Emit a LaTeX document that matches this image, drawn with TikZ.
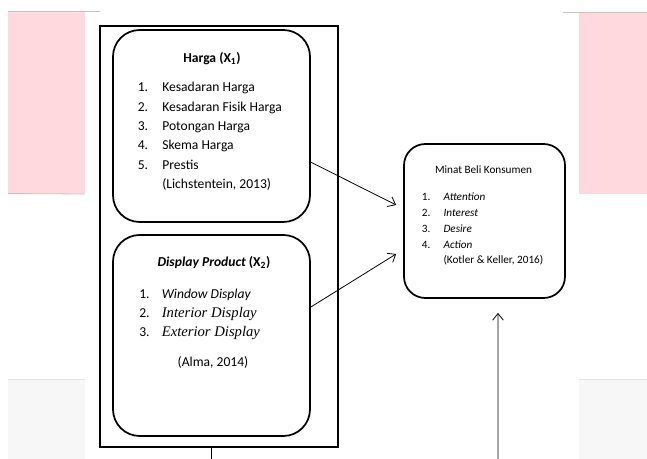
\documentclass[tikz,border=0pt]{standalone}
\usepackage{fontspec}
\setmainfont{Carlito}
\newfontfamily\timesfont{Liberation Serif}
\usepackage{tikz}
\definecolor{softpink}{RGB}{255, 217, 221}
\definecolor{softgray}{RGB}{247, 247, 247}
\definecolor{edgegray}{RGB}{200, 196, 196}
\definecolor{lightedge}{RGB}{228, 228, 228}
\usetikzlibrary{arrows.meta, positioning, calc}

\begin{document}
\begin{tikzpicture}[
    x=0.75pt, y=-0.75pt,
    >={Straight Barb[length=5pt, width=8pt]},
    varbox/.style={draw, line width=1.3pt, rounded corners=#1, inner sep=0pt},
    listtext/.style={inner sep=0pt, anchor=base west, align=left},
    headtext/.style={inner sep=0pt, anchor=base}
]
    \useasboundingbox (0,0) rectangle (647,459);

    \fill[softpink] (8,11) rectangle (85,194);
    \fill[softpink] (579,12) rectangle (647,194);
    \fill[softgray] (8,379) rectangle (85,459);
    \fill[softgray] (579,379) rectangle (647,459);
    \draw[edgegray, line width=0.7pt] (8,11) -- (100,11);
    \draw[edgegray, line width=0.7pt] (563,12) -- (647,12);
    \draw[edgegray, line width=0.6pt] (8,193.5) -- (85,194);
    \draw[lightedge, line width=0.6pt] (8,379) -- (85,379);
    \draw[lightedge, line width=0.6pt] (579,379) -- (647,379);

    \node[draw, line width=1.5pt, minimum width=178.5pt, minimum height=315.75pt,
          inner sep=0pt] (frame) at (219,236.5) {};

    \node[varbox=20pt, minimum width=147.75pt, minimum height=144pt] (harga) at (211.5,126) {};
    \node[varbox=20pt, minimum width=147.75pt, minimum height=150.75pt] (display) at (211.5,335.5) {};
    \node[varbox=16pt, minimum width=120.75pt, minimum height=115.5pt] (minat) at (484.5,221) {};

    \node[headtext, font=\fontsize{10.2}{12}\selectfont\bfseries] (hargahead) at (212,63)
        {Harga (X\textsubscript{1})};
    \node[listtext, font=\fontsize{10.2}{14.44}\selectfont] (hargalist) at (137.5,92) {%
        \begin{tabular}[t]{@{}p{18.4pt}@{}l@{}}
        1. & Kesadaran Harga\\
        2. & Kesadaran Fisik Harga\\
        3. & Potongan Harga\\
        4. & Skema Harga\\
        5. & Prestis\\
           & (Lichstentein, 2013)
        \end{tabular}};

    \node[headtext, font=\fontsize{10.2}{12}\selectfont\bfseries\itshape] (displayhead) at (214,267)
        {Display Product \upshape(X\textsubscript{2})};
    \node[listtext, font=\fontsize{10.2}{14.1}\selectfont] (displaylist) at (139,299) {%
        \begin{tabular}[t]{@{}p{16.9pt}@{}l@{}}
        1. & \textit{Window Display}\\
        2. & {\timesfont\itshape\fontsize{11}{13}\selectfont Interior Display}\\
        3. & {\timesfont\itshape\fontsize{11}{13}\selectfont Exterior Display}
        \end{tabular}};
    \node[headtext, font=\fontsize{10.2}{12}\selectfont] (displaycite) at (213,367) {(Alma, 2014)};

    \node[headtext, font=\fontsize{8.4}{10}\selectfont] (minathead) at (483.5,173.5) {Minat Beli Konsumen};
    \node[listtext, font=\fontsize{8.4}{11.8}\selectfont] (minatlist) at (421.7,201) {%
        \begin{tabular}[t]{@{}p{16.2pt}@{}l@{}}
        1. & \textit{Attention}\\
        2. & \textit{Interest}\\
        3. & \textit{Desire}\\
        4. & \textit{Action}\\
           & (Kotler \& Keller, 2016)
        \end{tabular}};

    \coordinate (lowleft) at (211,459);
    \coordinate (lowright) at (498,459);

    \draw[->, line width=0.6pt] (harga.-20) -- ([xshift=-5.25pt, yshift=12pt]minat.west);
    \draw[->, line width=0.6pt] (display.16) -- ([xshift=-5.25pt, yshift=-24.75pt]minat.west);
    \draw[line width=0.6pt] ([xshift=-6pt]frame.south) -- (lowleft);
    \draw[->, line width=0.6pt] (lowright) -- ([xshift=10.1pt, yshift=-10.5pt]minat.south);
\end{tikzpicture}
\end{document}
